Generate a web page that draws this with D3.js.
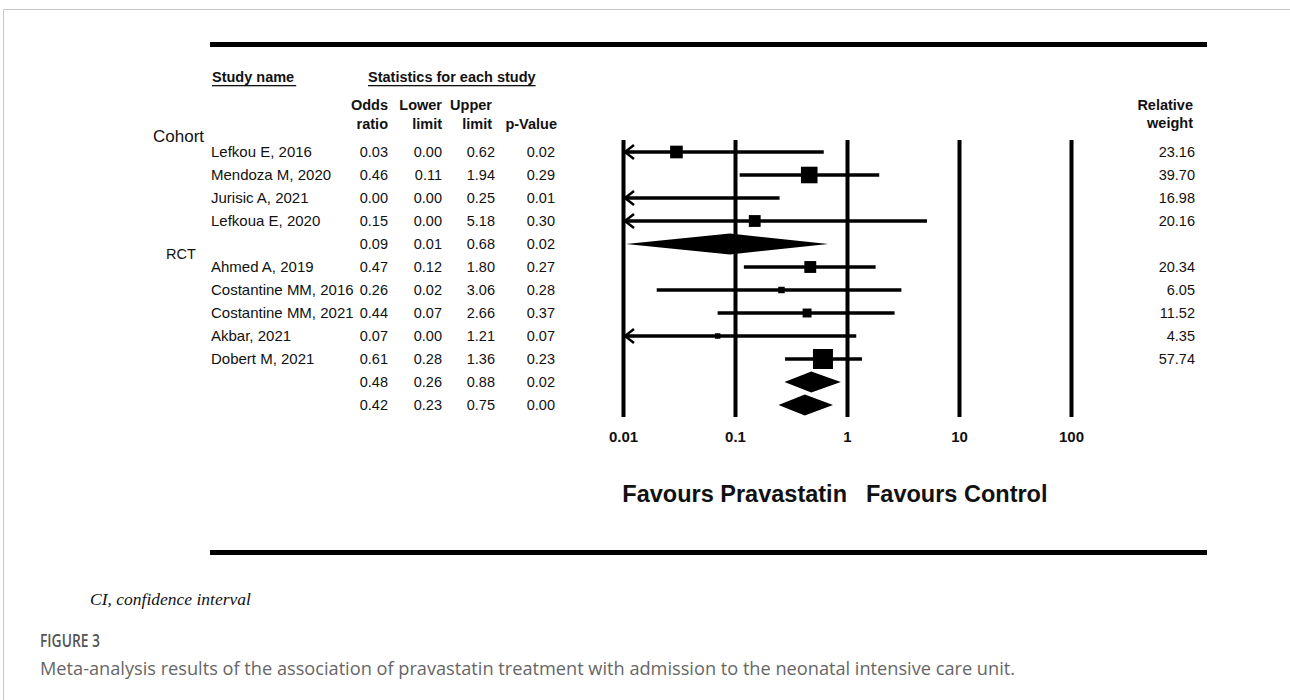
<!DOCTYPE html>
<html>
<head>
<meta charset="utf-8">
<script src="https://cdn.jsdelivr.net/npm/d3@7"></script>
<style>
  html, body { margin: 0; padding: 0; background: #fff; }
  svg { display: block; }
</style>
</head>
<body>
<svg id="chart" width="1290" height="700"></svg>
<script>
// Forest plot: pravastatin vs control, admission to the neonatal ICU
const studyNames  = ["Lefkou E, 2016", "Mendoza M, 2020", "Jurisic A, 2021", "Lefkoua E, 2020", "",
                     "Ahmed A, 2019", "Costantine MM, 2016", "Costantine MM, 2021", "Akbar, 2021", "Dobert M, 2021", "", ""];
const rowKinds    = ["study", "study", "study", "study", "summary",
                     "study", "study", "study", "study", "study", "summary", "summary"];
const oddsRatios  = [0.03, 0.46, 0.00, 0.15, 0.09, 0.47, 0.26, 0.44, 0.07, 0.61, 0.48, 0.42];
const lowerLimits = [0.00, 0.11, 0.00, 0.00, 0.01, 0.12, 0.02, 0.07, 0.00, 0.28, 0.26, 0.23];
const upperLimits = [0.62, 1.94, 0.25, 5.18, 0.68, 1.80, 3.06, 2.66, 1.21, 1.36, 0.88, 0.75];
const pValues     = [0.02, 0.29, 0.01, 0.30, 0.02, 0.27, 0.28, 0.37, 0.07, 0.23, 0.02, 0.00];
const weights     = [23.16, 39.70, 16.98, 20.16, null, 20.34, 6.05, 11.52, 4.35, 57.74, null, null];
const groupLabels = [{ text: "Cohort", row: -0.7, size: 17, x: 153 }, { text: "RCT", row: 4.45, size: 14.5, x: 166 }];
const axisTicks   = [0.01, 0.1, 1, 10, 100];
const tickLabels  = ["0.01", "0.1", "1", "10", "100"];

const rows = studyNames.map((name, i) => ({
  name, kind: rowKinds[i], or: oddsRatios[i], lo: lowerLimits[i], hi: upperLimits[i],
  p: pValues[i], w: weights[i], i
}));

const svg = d3.select("#chart");
const fmt = d3.format(".2f");
const FONT = "'Liberation Sans', Arial, sans-serif";
const INK = "#111";

// panel frame
svg.append("path").attr("d", "M3.5,700 V9.5 H1290")
  .attr("fill", "none").attr("stroke", "#c8c8c8").attr("stroke-width", 1);

// heavy rules above and below the plot
[44.5, 552.5].forEach(yy => svg.append("rect")
  .attr("x", 210).attr("y", yy - 2.5).attr("width", 997).attr("height", 5).attr("fill", "#000"));

const x = d3.scaleLog().domain([0.01, 100]).range([623, 1071]);
const y = d3.scaleLinear().domain([0, 11]).range([152, 405]);
const side = d3.scaleSqrt().domain([0, 57.74]).range([0, 20]);

const lineTop = 140, lineBottom = 417;

// vertical reference lines and tick labels from a bottom axis
const axis = d3.axisBottom(x)
  .tickValues(axisTicks)
  .tickFormat((d, i) => tickLabels[i])
  .tickSize(-(lineBottom - lineTop))
  .tickPadding(14);

const gAxis = svg.append("g").attr("transform", `translate(0,${lineBottom})`).call(axis);
gAxis.select(".domain").remove();
gAxis.selectAll(".tick line").attr("stroke", "#000").attr("stroke-width", 4);
gAxis.selectAll(".tick text")
  .attr("font-family", FONT).attr("font-size", 15).attr("font-weight", "bold")
  .attr("fill", INK).attr("dy", "0.35em").attr("y", 20);

// column headers
const header = svg.append("g").attr("font-family", FONT).attr("font-weight", "bold")
  .attr("font-size", 14.5).attr("fill", INK);

function underlined(txt, x0, yy, ext) {
  const t = header.append("text").attr("x", x0).attr("y", yy).text(txt);
  const len = t.node().getComputedTextLength();
  header.append("rect").attr("x", x0).attr("y", yy + 3).attr("width", len + (ext || 0))
    .attr("height", 1.3).attr("fill", INK);
}
underlined("Study name", 212, 82, 2);
underlined("Statistics for each study", 368, 82, 0);

const colRight = [388, 442, 492, 557];
const colHead1 = ["Odds", "Lower", "Upper", ""];
const colHead2 = ["ratio", "limit", "limit", "p-Value"];
colRight.forEach((cx, k) => {
  header.append("text").attr("x", cx).attr("y", 110).attr("text-anchor", "end").text(colHead1[k]);
  header.append("text").attr("x", cx).attr("y", 129).attr("text-anchor", "end").text(colHead2[k]);
});
header.append("text").attr("x", 1193).attr("y", 110).attr("text-anchor", "end").text("Relative");
header.append("text").attr("x", 1193).attr("y", 128).attr("text-anchor", "end").text("weight");

// group labels
groupLabels.forEach(g => svg.append("text")
  .attr("x", g.x).attr("y", y(g.row)).attr("dy", "0.35em")
  .attr("font-family", FONT).attr("font-size", g.size).attr("fill", INK).text(g.text));

// table body
const body = svg.append("g").attr("font-family", FONT).attr("font-size", 14.5).attr("fill", INK);
const numRight = [388, 442, 495, 555];
rows.forEach(r => {
  const yy = y(r.i);
  body.append("text").attr("x", 211).attr("y", yy).attr("dy", "0.35em")
    .attr("font-size", 15).text(r.name);
  [r.or, r.lo, r.hi, r.p].forEach((v, k) => body.append("text")
    .attr("x", numRight[k]).attr("y", yy).attr("dy", "0.35em").attr("text-anchor", "end").text(fmt(v)));
  if (r.w != null) body.append("text")
    .attr("x", 1195).attr("y", yy).attr("dy", "0.35em").attr("text-anchor", "end").text(fmt(r.w));
});

// confidence intervals, point estimates and pooled diamonds
const [dMin, dMax] = x.domain();
const clampX = v => x(Math.max(dMin, Math.min(dMax, v)));
const marks = svg.append("g");

rows.forEach(r => {
  const yy = y(r.i);
  if (r.kind === "study") {
    const clippedLow = r.lo < dMin;
    marks.append("line")
      .attr("x1", clippedLow ? x(dMin) + 2 : clampX(r.lo)).attr("x2", clampX(r.hi))
      .attr("y1", yy).attr("y2", yy).attr("stroke", "#000").attr("stroke-width", 3.5);
    if (clippedLow) {
      const ax = x(dMin) + 2;
      marks.append("path")
        .attr("d", `M${ax + 9},${yy - 7} L${ax},${yy} L${ax + 9},${yy + 7}`)
        .attr("fill", "none").attr("stroke", "#000").attr("stroke-width", 2.5);
    }
    if (r.or >= dMin) {
      const s = side(r.w);
      marks.append("rect")
        .attr("x", x(r.or) - s / 2).attr("y", yy - s / 2)
        .attr("width", s).attr("height", s).attr("fill", "#000");
    }
  } else {
    const h = 10.5;
    const xl = clampX(r.lo) + 3, xr = clampX(r.hi), xc = x(r.or);
    marks.append("path")
      .attr("d", `M${xl},${yy} L${xc},${yy - h} L${xr},${yy} L${xc},${yy + h} Z`)
      .attr("fill", "#000");
  }
});

// direction labels
const dir = svg.append("g").attr("font-family", FONT).attr("font-weight", "bold")
  .attr("font-size", 23.5).attr("fill", INK);
dir.append("text").attr("x", x(1)).attr("y", 494).attr("dy", "0.35em")
  .attr("text-anchor", "end").text("Favours Pravastatin");
dir.append("text").attr("x", 866).attr("y", 494).attr("dy", "0.35em").text("Favours Control");

// footnote and caption
svg.append("text").attr("x", 90).attr("y", 599).attr("dy", "0.35em")
  .attr("font-family", "'Liberation Serif', 'Times New Roman', serif").attr("font-style", "italic")
  .attr("font-size", 17.5).attr("fill", "#111").text("CI, confidence interval");
svg.append("text").attr("x", 40).attr("y", 641).attr("dy", "0.35em")
  .attr("font-family", "'Open Sans', sans-serif").attr("font-size", 18).attr("font-weight", 600)
  .attr("fill", "#555").attr("textLength", 60).attr("lengthAdjust", "spacingAndGlyphs")
  .text("FIGURE 3");
svg.append("text").attr("x", 40).attr("y", 669).attr("dy", "0.35em")
  .attr("font-family", "'Open Sans', sans-serif").attr("font-size", 17.5).attr("fill", "#666")
  .attr("textLength", 975).attr("lengthAdjust", "spacingAndGlyphs")
  .text("Meta-analysis results of the association of pravastatin treatment with admission to the neonatal intensive care unit.");
</script>
</body>
</html>
